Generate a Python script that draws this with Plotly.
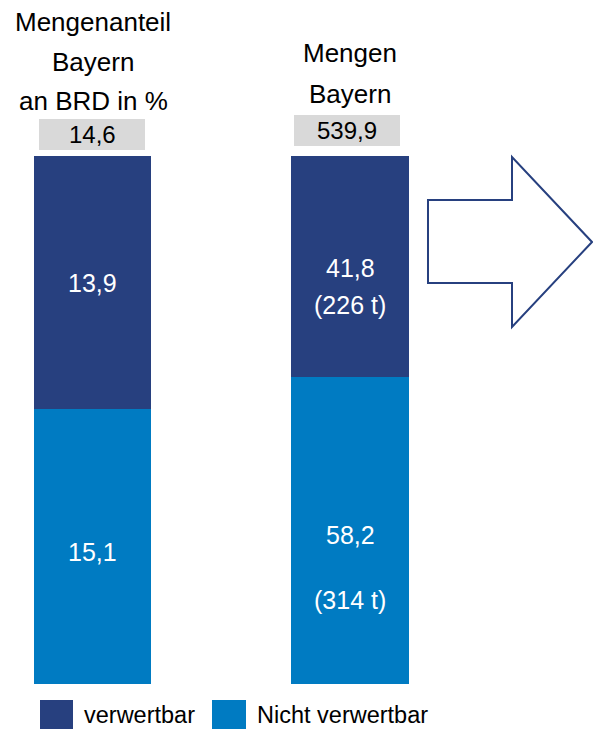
import plotly.graph_objects as go

# ---- data ----
categories = ["Mengenanteil Bayern an BRD in %", "Mengen Bayern"]
verwertbar = [13.9, 41.8]
nicht_verwertbar = [15.1, 58.2]
totals = ["14,6", "539,9"]
labels_verwertbar = [["13,9"], ["41,8", "(226 t)"]]
labels_nicht = [["15,1"], ["58,2", "(314 t)"]]
titles = [["Mengenanteil", "Bayern", "an BRD in %"], ["Mengen", "Bayern"]]
series_names = ["verwertbar", "Nicht verwertbar"]

DARK = "#27407F"
LIGHT = "#007BC2"
GRAY = "#D9D9D9"
FONT = "Liberation Sans, Arial, sans-serif"

W, H = 593, 729
TOP_PX, BOT_PX = 156, 684

x_idx = [0, 1]
fig = go.Figure()
fig.add_trace(go.Bar(x=x_idx, y=nicht_verwertbar, name=series_names[1],
                     marker=dict(color=LIGHT, line=dict(width=0)), width=0.458,
                     showlegend=False, hoverinfo="skip"))
fig.add_trace(go.Bar(x=x_idx, y=verwertbar, name=series_names[0],
                     marker=dict(color=DARK, line=dict(width=0)), width=0.458,
                     showlegend=False, hoverinfo="skip"))

spacing = 257.5
x0 = -92.5 / spacing
x1 = (W - 92.5) / spacing


def py_to_paper(py):
    return (BOT_PX - py) / (BOT_PX - TOP_PX)


annotations = []
shapes = []

# in-bar label line positions (pixel rows)
v_rows = [[283], [268, 305]]
n_rows = [[552], [535, 600]]
for i in range(2):
    for lines, rows in ((labels_verwertbar[i], v_rows[i]), (labels_nicht[i], n_rows[i])):
        for txt, py in zip(lines, rows):
            annotations.append(dict(x=i, y=py_to_paper(py), xref="x", yref="paper",
                                    text=txt, showarrow=False, yanchor="middle",
                                    font=dict(color="white", size=25, family=FONT)))

# gray total boxes and titles
box_px = [(39, 145, 119, 150), (294, 400, 115, 146)]
title_rows = [[22, 62, 101], [53, 94]]
title_cx = [93, 350]
for i in range(2):
    bx0, bx1, by0, by1 = box_px[i]
    shapes.append(dict(type="rect", xref="paper", yref="paper",
                       x0=bx0 / W, x1=bx1 / W, y0=py_to_paper(by1), y1=py_to_paper(by0),
                       fillcolor=GRAY, line=dict(width=0), layer="below"))
    annotations.append(dict(x=(bx0 + bx1) / 2 / W, y=py_to_paper((by0 + by1) / 2),
                            xref="paper", yref="paper", text=totals[i], showarrow=False,
                            xanchor="center", yanchor="middle",
                            font=dict(color="black", size=24, family=FONT)))
    for txt, py in zip(titles[i], title_rows[i]):
        annotations.append(dict(x=title_cx[i] / W, y=py_to_paper(py),
                                xref="paper", yref="paper", text=txt, showarrow=False,
                                xanchor="center", yanchor="middle",
                                font=dict(color="black", size=26, family=FONT)))

# arrow outline
pts = [(428, 200), (512, 200), (512, 157), (592, 242), (512, 327), (512, 283), (428, 283)]
path = "M " + " L ".join(f"{px / W:.5f},{py_to_paper(py):.5f}" for px, py in pts) + " Z"
shapes.append(dict(type="path", xref="paper", yref="paper", path=path,
                   fillcolor="white", line=dict(color=DARK, width=2)))

# custom legend
leg = [(40, 73, DARK, 82, series_names[0]), (212, 246, LIGHT, 255, series_names[1])]
for sx0, sx1, col, tx, name in leg:
    shapes.append(dict(type="rect", xref="paper", yref="paper",
                       x0=sx0 / W, x1=sx1 / W, y0=py_to_paper(729), y1=py_to_paper(700),
                       fillcolor=col, line=dict(width=0)))
    annotations.append(dict(x=tx / W, y=py_to_paper(715), xref="paper", yref="paper",
                            text=name, showarrow=False, xanchor="left", yanchor="middle",
                            font=dict(color="black", size=23.5, family=FONT)))

fig.update_layout(
    width=W, height=H,
    margin=dict(l=0, r=0, t=TOP_PX, b=H - BOT_PX),
    barmode="stack", barnorm="percent",
    plot_bgcolor="white", paper_bgcolor="white",
    xaxis=dict(range=[x0, x1], visible=False, fixedrange=True),
    yaxis=dict(range=[0, 100], visible=False, fixedrange=True),
    shapes=shapes, annotations=annotations,
    showlegend=False,
    font=dict(family=FONT),
)

fig.write_html("out.html")
